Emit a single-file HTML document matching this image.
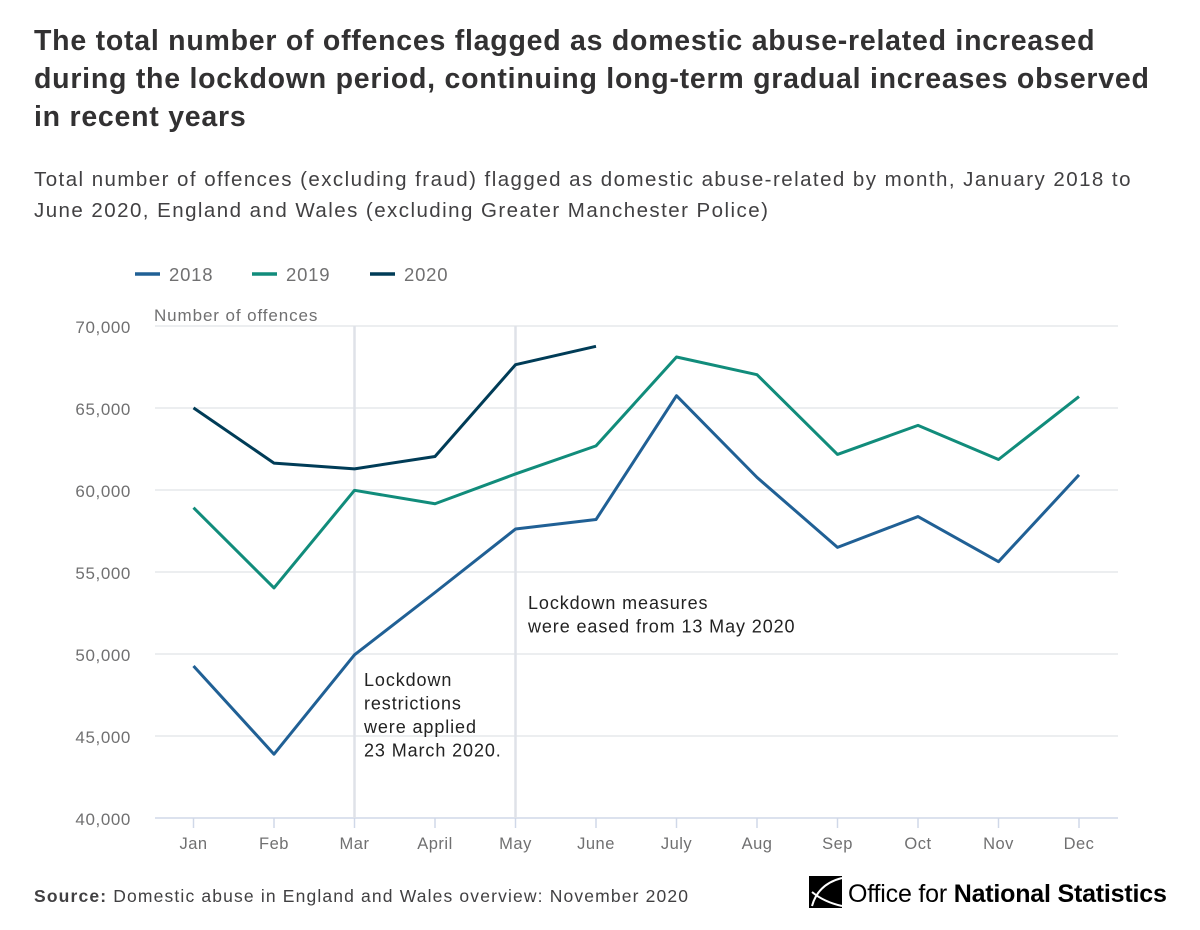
<!DOCTYPE html>
<html><head><meta charset="utf-8">
<style>
body{margin:0;background:#fff;width:1200px;height:930px;overflow:hidden;font-family:"Liberation Sans",sans-serif;}
.title{position:absolute;left:34px;top:22px;width:1160px;font-size:28.5px;font-weight:bold;line-height:38px;color:#323132;letter-spacing:0.75px;white-space:nowrap;}
.sub{position:absolute;left:34px;top:164px;width:1160px;font-size:20.5px;line-height:31px;color:#414042;letter-spacing:1.45px;white-space:nowrap;}
</style></head><body>
<div class="title">The total number of offences flagged as domestic abuse-related increased<br>during the lockdown period, continuing long-term gradual increases observed<br>in recent years</div>
<div class="sub">Total number of offences (excluding fraud) flagged as domestic abuse-related by month, January 2018 to<br>June 2020, England and Wales (excluding Greater Manchester Police)</div>
<svg id="chart" width="1200" height="930" style="position:absolute;left:0;top:0" font-family="Liberation Sans, sans-serif"></svg>
<script>
const months=["Jan","Feb","Mar","April","May","June","July","Aug","Sep","Oct","Nov","Dec"];
const s2018=[49270,43890,49950,53750,57620,58200,65750,60770,56500,58380,55630,60920];
const s2019=[58920,54030,59980,59160,60980,62690,68110,67030,62170,63940,61860,65700];
const s2020=[65010,61640,61290,62040,67640,68760];
const yTicks=[40000,45000,50000,55000,60000,65000,70000];
const seriesNames=["2018","2019","2020"];
const colors=["#206095","#118c7b","#003c57"];
const NS="http://www.w3.org/2000/svg";
const svg=document.getElementById('chart');
const x=i=>193.5+i*80.5;
const y=v=>818-(v-40000)/30000*492;
function mk(t,a,p){const e=document.createElementNS(NS,t);for(const k in a)e.setAttribute(k,a[k]);(p||svg).appendChild(e);return e;}
yTicks.forEach(v=>{
 const g=mk('line',{x1:155,x2:1118,y1:y(v),y2:y(v),stroke:v===40000?'#d0d8e8':'#e6e8ec','stroke-width':1.5});
 
 
 const t=mk('text',{x:131,y:y(v)+7,'text-anchor':'end','font-size':17,fill:'#707071','letter-spacing':0.6});
 t.textContent=v.toLocaleString('en-GB');
 
 
});
const yt=mk('text',{x:154,y:321,'font-size':17,fill:'#707071','letter-spacing':0.9});yt.textContent='Number of offences';


[2,4].forEach(i=>{
 const l=mk('line',{x1:x(i),x2:x(i),y1:326,y2:818,stroke:'#dfe2e8','stroke-width':2.5});
 
 
});
months.forEach((m,i)=>{
 mk('line',{x1:x(i),x2:x(i),y1:818,y2:828,stroke:'#d0d8e8','stroke-width':1.5});
 const t=mk('text',{x:x(i),y:849,'text-anchor':'middle','font-size':16.5,fill:'#707071','letter-spacing':0.5});t.textContent=m;
 
 
});
function ann(lines,x0,y0,name){const t=mk('text',{x:x0,y:y0,'font-size':18,fill:'#222','letter-spacing':0.9});
 
 
 lines.forEach((s,k)=>{const ts=mk('tspan',{x:x0,dy:k?23.5:0},t);ts.textContent=s;});}
ann(["Lockdown","restrictions","were applied","23 March 2020."],364,686,'annotation-lockdown-applied');
ann(["Lockdown measures","were eased from 13 May 2020"],528,609,'annotation-lockdown-eased');
[s2018,s2019,s2020].forEach((d,k)=>{
 const p=mk('polyline',{points:d.map((v,i)=>x(i)+','+y(v)).join(' '),fill:'none',stroke:colors[k],'stroke-width':3,'stroke-linejoin':'round'});
 
 
});
const lx=[135,252,370];
seriesNames.forEach((n,k)=>{
 const g=mk('g',{});
 
 
 mk('line',{x1:lx[k],x2:lx[k]+25,y1:274,y2:274,stroke:colors[k],'stroke-width':3.5},g);
 const t=mk('text',{x:lx[k]+34,y:281,'font-size':18.5,fill:'#707071','letter-spacing':0.8},g);t.textContent=n;
});
const src=mk('text',{x:34,y:902,'font-size':17.5,fill:'#414042','letter-spacing':1.15});


const b=mk('tspan',{'font-weight':'bold'},src);b.textContent='Source:';
const r=mk('tspan',{},src);r.textContent=' Domestic abuse in England and Wales overview: November 2020';
const lg=mk('g',{});


mk('rect',{x:809,y:876,width:33,height:32,fill:'#000'},lg);
mk('path',{d:'M842 878 Q818 884 812 906 M842 906 Q824 902 812 892',stroke:'#fff','stroke-width':2,fill:'none'},lg);
const lt=mk('text',{x:848,y:902,'font-size':25,fill:'#000','letter-spacing':-0.2},lg);
const t1=mk('tspan',{},lt);t1.textContent='Office for ';
const t2=mk('tspan',{'font-weight':'bold'},lt);t2.textContent='National Statistics';
</script>
</body></html>
